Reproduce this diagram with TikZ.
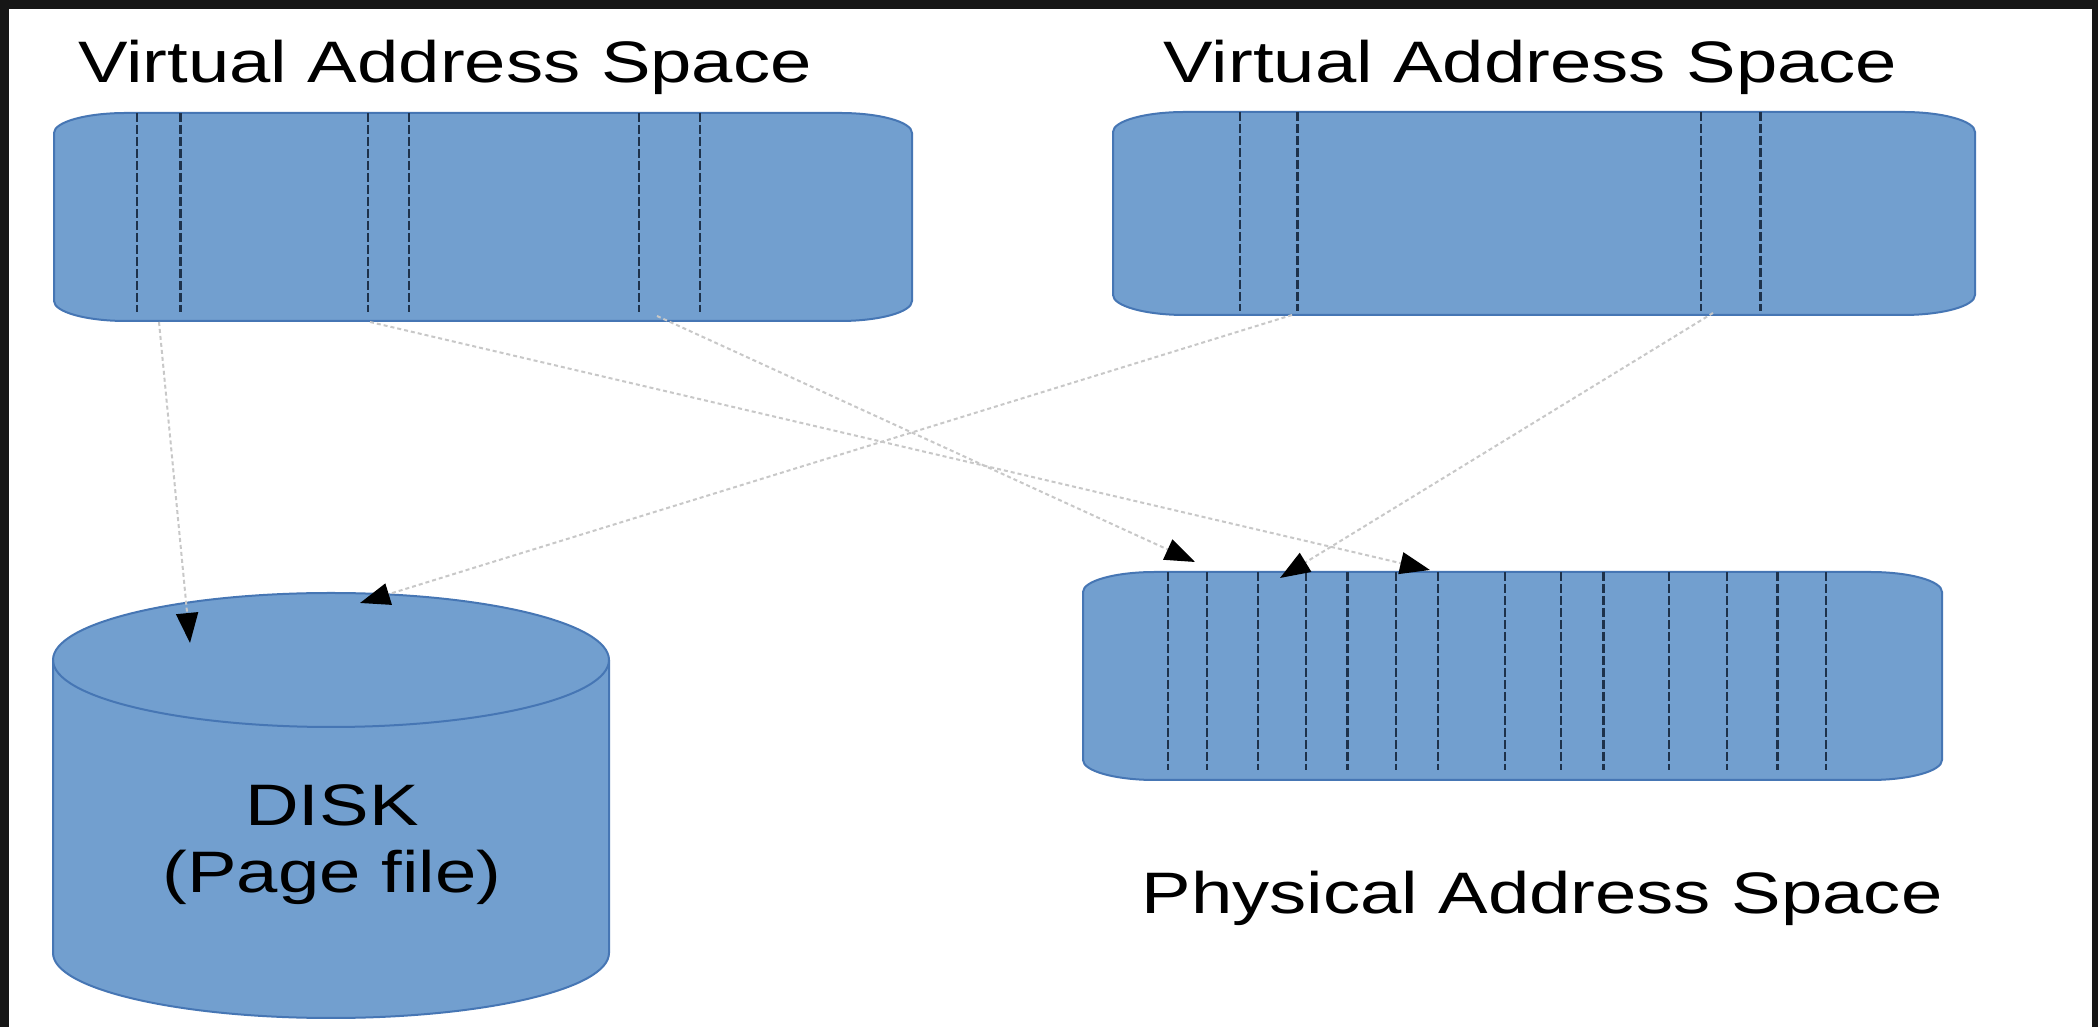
\documentclass[tikz,border=0pt]{standalone}
\usepackage{fontspec}
\setmainfont{Liberation Sans}[FakeStretch=1.27]
\usetikzlibrary{arrows.meta,calc}
\definecolor{boxfill}{HTML}{729FCF}
\definecolor{boxedge}{RGB}{70,118,180}
\definecolor{pagedash}{RGB}{30,50,75}
\definecolor{framecol}{RGB}{22,22,22}
\definecolor{linkcol}{RGB}{200,200,200}
\tikzset{
  lbl/.style={font=\fontsize{58.5}{67}\selectfont, text=black, inner sep=0pt},
  area/.style={fill=boxfill, draw=boxedge, line width=2pt},
  pageline/.style={draw=pagedash, line width=2.5pt, dash pattern=on 9pt off 3pt},
  mapping/.style={draw=linkcol, line width=2pt, dash pattern=on 4pt off 3pt,
    -{Triangle[length=30pt,width=22pt,color=black,fill=black]}},
  slot/.style={inner sep=0pt, outer sep=0pt, draw=none},
}
\newcommand\ovalbox[1]{%
  \path[area] ([xshift=72pt]#1.north west) -- ([xshift=-72pt]#1.north east)
    arc[start angle=90,end angle=0,x radius=72pt,y radius=20pt]
    -- ([yshift=20pt]#1.south east)
    arc[start angle=0,end angle=-90,x radius=72pt,y radius=20pt]
    -- ([xshift=72pt]#1.south west)
    arc[start angle=270,end angle=180,x radius=72pt,y radius=20pt]
    -- ([yshift=-20pt]#1.north west)
    arc[start angle=180,end angle=90,x radius=72pt,y radius=20pt] -- cycle;}
\begin{document}
\begin{tikzpicture}[x=1pt,y=1pt]
  \useasboundingbox (0,0) rectangle (2098,1027);
  % frame
  \fill[framecol] (0,0) rectangle (2098,1027);
  \fill[white] (9,0) rectangle (2092,1018);

  % virtual address space (left)
  \node[slot, minimum width=858pt, minimum height=208pt] (vL) at (483,810) {};
  \ovalbox{vL}
  \foreach \x in {137,180.5,368,409,639,700}
    \draw[pageline] (\x,914) -- (\x,715);
  \node[lbl, anchor=base] (tL) at (445,944) {Virtual Address Space};

  % virtual address space (right)
  \node[slot, minimum width=862pt, minimum height=203pt] (vR) at (1544,813.5) {};
  \ovalbox{vR}
  \foreach \x in {1240,1297.5,1701,1760.5}
    \draw[pageline] (\x,915) -- (\x,716);
  \node[lbl, anchor=base] (tR) at (1530.5,944) {Virtual Address Space};

  % physical address space
  \node[slot, minimum width=859pt, minimum height=208pt] (ph) at (1512.5,351) {};
  \ovalbox{ph}
  \foreach \x in {1168,1207,1258,1306,1347.5,1396,1438,1505,1561,1603.5,1669,1727,1777.5,1826}
    \draw[pageline] (\x,455) -- (\x,257);
  \node[lbl, anchor=base] (tP) at (1542,113) {Physical Address Space};

  % disk
  \node[slot, minimum width=556pt, minimum height=425pt] (disk) at (331,221.5) {};
  \path[area] (53,367) -- (53,74)
    arc[start angle=180,end angle=360,x radius=278,y radius=65]
    -- (609,367)
    arc[start angle=0,end angle=180,x radius=278,y radius=67] -- cycle;
  \draw[boxedge, line width=2pt] (53,367)
    arc[start angle=180,end angle=360,x radius=278,y radius=67];
  \node[lbl, align=center, anchor=center] (dT) at (332,182) {DISK\\(Page file)};

  % connector ends
  \coordinate (vL-a) at (159,705);
  \coordinate (vL-b) at (370,705);
  \coordinate (vL-c) at (657,711);
  \coordinate (vR-a) at (1292,712);
  \coordinate (vR-b) at (1713,714);
  \coordinate (disk-a) at (190,384);
  \coordinate (disk-b) at (360,424);
  \coordinate (ph-a) at (1195,465);
  \coordinate (ph-b) at (1280,449);
  \coordinate (ph-c) at (1430,457);

  % connectors
  \draw[mapping] (vL-a) -- (disk-a);
  \draw[mapping] (vR-a) -- (disk-b);
  \draw[mapping] (vL-c) -- (ph-a);
  \draw[mapping] (vL-b) -- (ph-c);
  \draw[mapping] (vR-b) -- (ph-b);
\end{tikzpicture}
\end{document}
